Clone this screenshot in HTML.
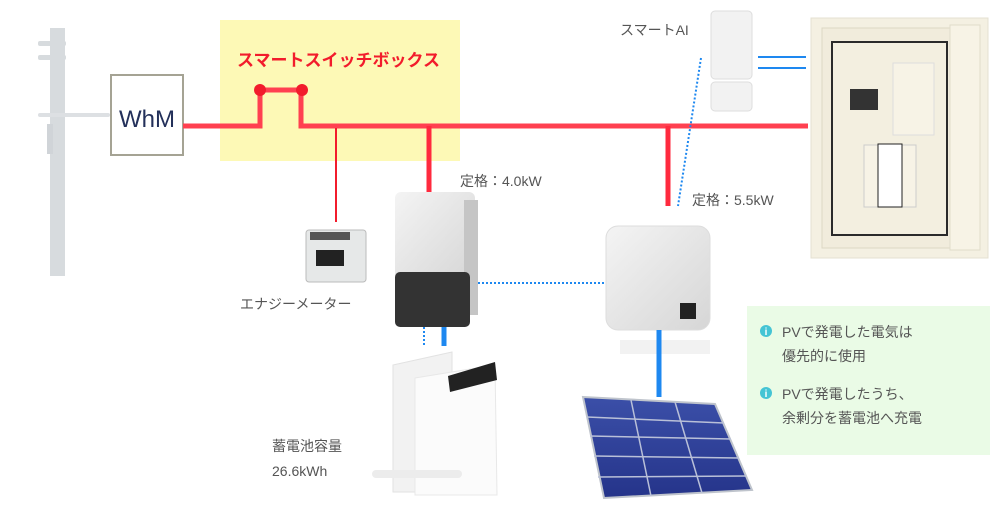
<!DOCTYPE html>
<html><head><meta charset="utf-8"><style>
body{margin:0;width:1000px;height:500px;overflow:hidden;background:#fff;font-family:"Liberation Sans","Noto Sans CJK JP",sans-serif}
svg text{font-family:"Liberation Sans","Noto Sans CJK JP",sans-serif}
</style></head><body>
<svg width="1000" height="500" viewBox="0 0 1000 500" xmlns="http://www.w3.org/2000/svg">
<defs>
<linearGradient id="pv" x1="0" y1="0" x2="0" y2="1"><stop offset="0" stop-color="#3b4fa8"/><stop offset="1" stop-color="#25348a"/></linearGradient>
<linearGradient id="inv" x1="0" y1="0" x2="1" y2="1"><stop offset="0" stop-color="#f4f4f4"/><stop offset="1" stop-color="#d6d6d6"/></linearGradient>
</defs>
<!-- pole -->
<rect x="50" y="28" width="15" height="248" fill="#d7dbde"/>
<rect x="38" y="41" width="28" height="5" rx="2" fill="#d7dbde"/>
<rect x="38" y="55" width="28" height="5" rx="2" fill="#d7dbde"/>
<rect x="38" y="113" width="72" height="4" rx="2" fill="#dde0e3"/>
<rect x="47" y="124" width="6" height="30" fill="#d0d4d8"/>
<!-- yellow box -->
<rect x="220" y="20" width="240" height="141" fill="#fdf9b6"/>
<text x="237" y="66" font-size="17" font-weight="bold" fill="#f21c2c">スマートスイッチボックス</text>
<!-- WhM -->
<rect x="111" y="75" width="72" height="80" fill="#fff" stroke="#a5a394" stroke-width="2"/>
<text x="147" y="127" font-size="24" fill="#23305a" text-anchor="middle">WhM</text>
<!-- red lines -->
<polyline points="183,126 260,126 260,90 301,90 301,126 808,126" fill="none" stroke="#ff4050" stroke-width="5"/>
<circle cx="260" cy="90" r="6" fill="#f21c2c"/><circle cx="302" cy="90" r="6" fill="#f21c2c"/>
<line x1="336" y1="128" x2="336" y2="222" stroke="#f21c2c" stroke-width="2"/>
<line x1="429" y1="126" x2="429" y2="192" stroke="#ff2a3e" stroke-width="5"/>
<line x1="668" y1="126" x2="668" y2="206" stroke="#ff2a3e" stroke-width="5"/>
<text x="460" y="186" font-size="14" fill="#555">定格：4.0kW</text>
<text x="692" y="205" font-size="14" fill="#555">定格：5.5kW</text>
<text x="620" y="35" font-size="14" fill="#555">スマートAI</text>
<!-- smart AI device -->
<rect x="711" y="11" width="41" height="68" rx="4" fill="#f2f2f2" stroke="#ddd"/>
<rect x="711" y="82" width="41" height="29" rx="4" fill="#f2f2f2" stroke="#ddd"/>
<line x1="758" y1="57" x2="806" y2="57" stroke="#1e88f0" stroke-width="2"/>
<line x1="758" y1="68" x2="806" y2="68" stroke="#1e88f0" stroke-width="2"/>
<line x1="701" y1="58" x2="678" y2="206" stroke="#1e88f0" stroke-width="2" stroke-dasharray="2,2"/>
<!-- panel board -->
<rect x="811" y="18" width="177" height="240" fill="#f4f0e2" stroke="#e4e0d2"/>
<rect x="822" y="28" width="128" height="220" fill="#f1ecdc" stroke="#ddd7c4"/>
<rect x="832" y="42" width="115" height="193" fill="#f3efe0" stroke="#2a2a2a" stroke-width="2"/>
<rect x="950" y="25" width="30" height="225" fill="#f7f3e6" stroke="#e0dccb"/>
<rect x="850" y="89" width="28" height="21" fill="#333"/>
<rect x="893" y="63" width="41" height="72" fill="#f7f3e6" stroke="#ddd"/>
<rect x="864" y="145" width="52" height="62" fill="#f7f3e6" stroke="#ccc"/>
<rect x="878" y="144" width="24" height="63" fill="#fff" stroke="#222"/>
<!-- energy meter -->
<rect x="306" y="230" width="60" height="52" rx="3" fill="#e6e8e8" stroke="#bbb"/>
<rect x="316" y="250" width="28" height="16" fill="#222"/>
<rect x="310" y="232" width="40" height="8" fill="#555"/>
<text x="240" y="309" font-size="14" fill="#555">エナジーメーター</text>
<!-- hybrid inverter -->
<rect x="395" y="192" width="80" height="88" rx="6" fill="url(#inv)"/>
<rect x="464" y="200" width="14" height="115" fill="#c5c5c5"/>
<rect x="395" y="272" width="75" height="55" rx="5" fill="#333"/>
<line x1="478" y1="283" x2="610" y2="283" stroke="#1e88f0" stroke-width="2" stroke-dasharray="2,2"/>
<line x1="424" y1="327" x2="424" y2="346" stroke="#1e88f0" stroke-width="2" stroke-dasharray="2,2"/>
<line x1="444" y1="327" x2="444" y2="346" stroke="#1e88f0" stroke-width="5"/>
<!-- battery -->
<path d="M393 365 L452 352 L452 492 L393 492 Z" fill="#f2f2f2" stroke="#e2e2e2"/>
<path d="M415 378 L495 365 L497 495 L415 495 Z" fill="#fbfbfb" stroke="#e8e8e8"/>
<path d="M448 376 L495 362 L497 380 L450 392 Z" fill="#222"/>
<rect x="372" y="470" width="90" height="8" rx="4" fill="#ececec"/>
<text x="272" y="451" font-size="14" fill="#555">蓄電池容量</text>
<text x="272" y="476" font-size="14" fill="#555">26.6kWh</text>
<!-- SMA inverter -->
<rect x="606" y="226" width="104" height="104" rx="12" fill="url(#inv)" stroke="#ddd"/>
<rect x="680" y="303" width="16" height="16" fill="#222"/>
<rect x="620" y="340" width="90" height="14" fill="#f2f2f2"/>
<line x1="659" y1="330" x2="659" y2="397" stroke="#1e88f0" stroke-width="5"/>
<!-- solar panel -->
<polygon points="583,397 715,404 752,490 604,498" fill="url(#pv)" stroke="#bfc4cc" stroke-width="2"/>
<g stroke="#b9c0d8" stroke-width="1.5">
<line x1="631" y1="400" x2="651" y2="496"/><line x1="675" y1="402" x2="702" y2="493"/>
<line x1="587" y1="417" x2="724" y2="423"/><line x1="590" y1="436" x2="731" y2="439"/><line x1="594" y1="456" x2="739" y2="458"/><line x1="598" y1="477" x2="746" y2="476"/>
</g>
<!-- green box -->
<rect x="747" y="306" width="243" height="149" fill="#eafbe6"/>
<circle cx="766" cy="331" r="6" fill="#44c4d4"/><text x="766" y="335" font-size="10" font-weight="bold" fill="#fff" text-anchor="middle">i</text>
<circle cx="766" cy="393" r="6" fill="#44c4d4"/><text x="766" y="397" font-size="10" font-weight="bold" fill="#fff" text-anchor="middle">i</text>
<g font-size="14" fill="#555">
<text x="782" y="337">PVで発電した電気は</text>
<text x="782" y="361">優先的に使用</text>
<text x="782" y="399">PVで発電したうち、</text>
<text x="782" y="423">余剰分を蓄電池へ充電</text>
</g>
</svg>
</body></html>
